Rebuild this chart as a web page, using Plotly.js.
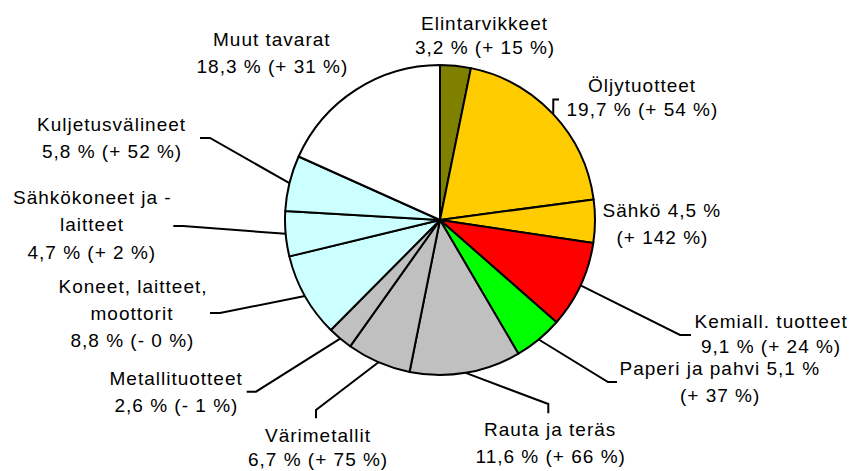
<!DOCTYPE html>
<html>
<head>
<meta charset="utf-8">
<script src="https://cdn.plot.ly/plotly-3.0.1.min.js"></script>
<style>
html, body { margin: 0; padding: 0; background: #ffffff; }
#chart text.annotation-text { letter-spacing: 1.0px; }
</style>
</head>
<body>
<div id="chart" style="width:851px;height:471px"></div>
<script>
// ---- data ----
const categories = ['Elintarvikkeet', 'Öljytuotteet', 'Sähkö', 'Kemiall. tuotteet', 'Paperi ja pahvi',
  'Rauta ja teräs', 'Värimetallit', 'Metallituotteet', 'Koneet, laitteet, moottorit',
  'Sähkökoneet ja -laitteet', 'Kuljetusvälineet', 'Muut tavarat'];
const shares = [3.2, 19.7, 4.5, 9.1, 5.1, 11.6, 6.7, 2.6, 8.8, 4.7, 5.8, 18.3];
const changes = [15, 54, 142, 24, 37, 66, 75, -1, -0, 2, 52, 31];
const nameLines = [['Elintarvikkeet'], ['Öljytuotteet'], ['Sähkö'], ['Kemiall. tuotteet'], ['Paperi ja pahvi'],
  ['Rauta ja teräs'], ['Värimetallit'], ['Metallituotteet'], ['Koneet, laitteet,', 'moottorit'],
  ['Sähkökoneet ja -', 'laitteet'], ['Kuljetusvälineet'], ['Muut tavarat']];
const shareInline = [false, false, true, false, true, false, false, false, false, false, false, false];

// ---- styles / layout config ----
const sliceColors = ['#808000', '#FFCC00', '#FFCC00', '#FF0000', '#00FF00', '#C0C0C0', '#C0C0C0', '#C0C0C0',
  '#CCFFFF', '#CCFFFF', '#CCFFFF', '#FFFFFF'];
const W = 851, H = 471;
// label centre x, first-line centre y, line gap (pixels)
const labelPos = [[485, 23.5, 24.5], [642, 86, 24], [662, 210, 27.5], [771, 321.3, 25.4], [720, 368.3, 27],
  [550, 429.5, 26.5], [318, 435, 24.5], [176, 378.3, 26.7], [132.5, 286.7, 26.8], [92, 197.3, 27.5],
  [112, 125, 26.7], [272, 40, 26.7]];
// leader elbow and end points (pixels); start is taken from the pie slice
const leaderPts = [null, [[553.3, 99.5], [559, 99.5]], null, [[680, 335], [691, 335]], [[608, 382], [617, 382]],
  [[548.3, 404], [548.3, 413.3]], [[316, 410], [316, 418.3]], [[256, 391.7], [246.7, 391.7]],
  [[220, 313], [210, 313]], [[183, 226], [173.3, 226]], [[210, 138], [200, 138]], null];
const pieDomain = {x: [285 / W, 595 / W], y: [1 - 375 / H, 1 - 65 / H]};

function fmtShare(v) { return v.toFixed(1).replace('.', ',') + ' %'; }
function fmtChange(v) {
  const sign = (v < 0 || Object.is(v, -0)) ? '-' : '+';
  return '(' + sign + ' ' + Math.abs(v) + ' %)';
}
const px = x => x / W, py = y => 1 - y / H;

const annotations = [];
categories.forEach((c, i) => {
  let lines;
  const nl = nameLines[i];
  if (shareInline[i]) {
    lines = nl.slice(0, -1).concat([nl[nl.length - 1] + ' ' + fmtShare(shares[i]), fmtChange(changes[i])]);
  } else {
    lines = nl.concat([fmtShare(shares[i]) + ' ' + fmtChange(changes[i])]);
  }
  const [lx, ly, gap] = labelPos[i];
  lines.forEach((t, k) => {
    annotations.push({
      xref: 'paper', yref: 'paper', x: px(lx), y: py(ly + k * gap),
      xanchor: 'center', yanchor: 'middle', showarrow: false, text: t,
      font: {size: 19, color: '#000000', family: 'Liberation Sans, Arial, sans-serif'}
    });
  });
});

const trace = {
  type: 'pie', labels: categories, values: shares, sort: false, direction: 'clockwise', rotation: 0,
  marker: {colors: sliceColors, line: {color: '#000000', width: 2}},
  textinfo: 'none', hoverinfo: 'none', showlegend: false, domain: pieDomain
};

const layout = {
  width: W, height: H, margin: {l: 0, r: 0, t: 0, b: 0},
  paper_bgcolor: '#ffffff', plot_bgcolor: '#ffffff', showlegend: false,
  font: {family: 'Liberation Sans, Arial, sans-serif', color: '#000000'},
  annotations: annotations
};

const gd = document.getElementById('chart');
Plotly.newPlot(gd, [trace], layout, {staticPlot: true}).then(() => {
  const cd = gd.calcdata && gd.calcdata[0];
  let cx, cy, r;
  if (cd && cd[0] && cd[0].r) { cx = cd[0].cx; cy = cd[0].cy; r = cd[0].r; }
  else {
    cx = (pieDomain.x[0] + pieDomain.x[1]) / 2 * W; cy = (1 - (pieDomain.y[0] + pieDomain.y[1]) / 2) * H;
    r = Math.min((pieDomain.x[1] - pieDomain.x[0]) * W, (pieDomain.y[1] - pieDomain.y[0]) * H) / 2;
  }
  const total = shares.reduce((a, b) => a + b, 0);
  let cum = 0;
  const shapes = [];
  shares.forEach((v, i) => {
    let mx, my;
    const pt = cd && cd[i];
    if (pt && pt.pxmid) { mx = cx + pt.pxmid[0]; my = cy + pt.pxmid[1]; }
    else {
      const a = 2 * Math.PI * (cum + v / 2) / total;
      mx = cx + r * Math.sin(a); my = cy - r * Math.cos(a);
    }
    cum += v;
    const lp = leaderPts[i];
    if (!lp) return;
    const pts = [[mx, my]].concat(lp);
    const path = pts.map((p, k) => (k ? 'L' : 'M') + px(p[0]).toFixed(5) + ',' + py(p[1]).toFixed(5)).join(' ');
    shapes.push({type: 'path', xref: 'paper', yref: 'paper', path: path,
      line: {color: '#000000', width: 2}});
  });
  return Plotly.relayout(gd, {shapes: shapes});
});
</script>
</body>
</html>
